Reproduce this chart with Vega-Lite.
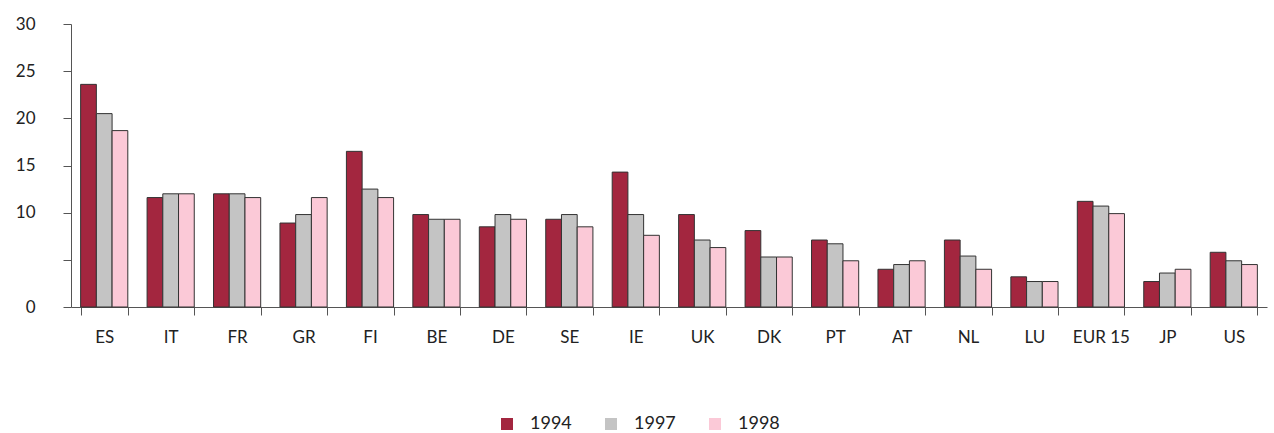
{
  "$schema": "https://vega.github.io/schema/vega-lite/v6.json",
  "width": 1196,
  "height": 283,
  "autosize": {"type": "none"},
  "padding": {"left": 71, "top": 24, "right": 7, "bottom": 126},
  "background": "white",
  "config": {"font": "Lato", "view": {"stroke": null}},
  "data": {
    "values": [
      {"country": "ES", "year": "1994", "value": 23.6},
      {"country": "ES", "year": "1997", "value": 20.5},
      {"country": "ES", "year": "1998", "value": 18.7},
      {"country": "IT", "year": "1994", "value": 11.6},
      {"country": "IT", "year": "1997", "value": 12.0},
      {"country": "IT", "year": "1998", "value": 12.0},
      {"country": "FR", "year": "1994", "value": 12.0},
      {"country": "FR", "year": "1997", "value": 12.0},
      {"country": "FR", "year": "1998", "value": 11.6},
      {"country": "GR", "year": "1994", "value": 8.9},
      {"country": "GR", "year": "1997", "value": 9.8},
      {"country": "GR", "year": "1998", "value": 11.6},
      {"country": "FI", "year": "1994", "value": 16.5},
      {"country": "FI", "year": "1997", "value": 12.5},
      {"country": "FI", "year": "1998", "value": 11.6},
      {"country": "BE", "year": "1994", "value": 9.8},
      {"country": "BE", "year": "1997", "value": 9.3},
      {"country": "BE", "year": "1998", "value": 9.3},
      {"country": "DE", "year": "1994", "value": 8.5},
      {"country": "DE", "year": "1997", "value": 9.8},
      {"country": "DE", "year": "1998", "value": 9.3},
      {"country": "SE", "year": "1994", "value": 9.3},
      {"country": "SE", "year": "1997", "value": 9.8},
      {"country": "SE", "year": "1998", "value": 8.5},
      {"country": "IE", "year": "1994", "value": 14.3},
      {"country": "IE", "year": "1997", "value": 9.8},
      {"country": "IE", "year": "1998", "value": 7.6},
      {"country": "UK", "year": "1994", "value": 9.8},
      {"country": "UK", "year": "1997", "value": 7.1},
      {"country": "UK", "year": "1998", "value": 6.3},
      {"country": "DK", "year": "1994", "value": 8.1},
      {"country": "DK", "year": "1997", "value": 5.3},
      {"country": "DK", "year": "1998", "value": 5.3},
      {"country": "PT", "year": "1994", "value": 7.1},
      {"country": "PT", "year": "1997", "value": 6.7},
      {"country": "PT", "year": "1998", "value": 4.9},
      {"country": "AT", "year": "1994", "value": 4.0},
      {"country": "AT", "year": "1997", "value": 4.5},
      {"country": "AT", "year": "1998", "value": 4.9},
      {"country": "NL", "year": "1994", "value": 7.1},
      {"country": "NL", "year": "1997", "value": 5.4},
      {"country": "NL", "year": "1998", "value": 4.0},
      {"country": "LU", "year": "1994", "value": 3.2},
      {"country": "LU", "year": "1997", "value": 2.7},
      {"country": "LU", "year": "1998", "value": 2.7},
      {"country": "EUR 15", "year": "1994", "value": 11.2},
      {"country": "EUR 15", "year": "1997", "value": 10.7},
      {"country": "EUR 15", "year": "1998", "value": 9.9},
      {"country": "JP", "year": "1994", "value": 2.7},
      {"country": "JP", "year": "1997", "value": 3.6},
      {"country": "JP", "year": "1998", "value": 4.0},
      {"country": "US", "year": "1994", "value": 5.8},
      {"country": "US", "year": "1997", "value": 4.9},
      {"country": "US", "year": "1998", "value": 4.5}
    ]
  },
  "mark": {"type": "bar", "stroke": "#333333", "strokeWidth": 1},
  "encoding": {
    "x": {
      "field": "country",
      "type": "nominal",
      "sort": ["ES", "IT", "FR", "GR", "FI", "BE", "DE", "SE", "IE", "UK", "DK", "PT", "AT", "NL", "LU", "EUR 15", "JP", "US"],
      "scale": {"paddingInner": 0.29, "paddingOuter": 0.145},
      "axis": {
        "title": null,
        "labelAngle": 0,
        "labelFontSize": 17,
        "labelColor": "#222222",
        "labelPadding": 14,
        "tickBand": "extent",
        "tickSize": 8,
        "tickColor": "#555555",
        "domainColor": "#555555",
        "grid": false
      }
    },
    "xOffset": {"field": "year", "type": "nominal", "sort": ["1994", "1997", "1998"]},
    "y": {
      "field": "value",
      "type": "quantitative",
      "scale": {"domain": [0, 30], "nice": false},
      "axis": {
        "title": null,
        "values": [0, 5, 10, 15, 20, 25, 30],
        "labelExpr": "datum.value == 5 ? '' : datum.label",
        "labelFontSize": 17,
        "labelColor": "#222222",
        "labelPadding": 28,
        "tickSize": 8,
        "tickColor": "#555555",
        "domainColor": "#555555",
        "grid": false
      }
    },
    "color": {
      "field": "year",
      "type": "nominal",
      "scale": {"domain": ["1994", "1997", "1998"], "range": ["#a3263f", "#c4c4c4", "#fbc9d7"]},
      "legend": {
        "title": null,
        "orient": "none",
        "direction": "horizontal",
        "legendX": 427,
        "legendY": 391,
        "padding": 0,
        "symbolType": "square",
        "symbolSize": 144,
        "symbolStrokeWidth": 0,
        "labelFontSize": 18,
        "labelColor": "#222222",
        "labelOffset": 14,
        "columnPadding": 30
      }
    }
  }
}
